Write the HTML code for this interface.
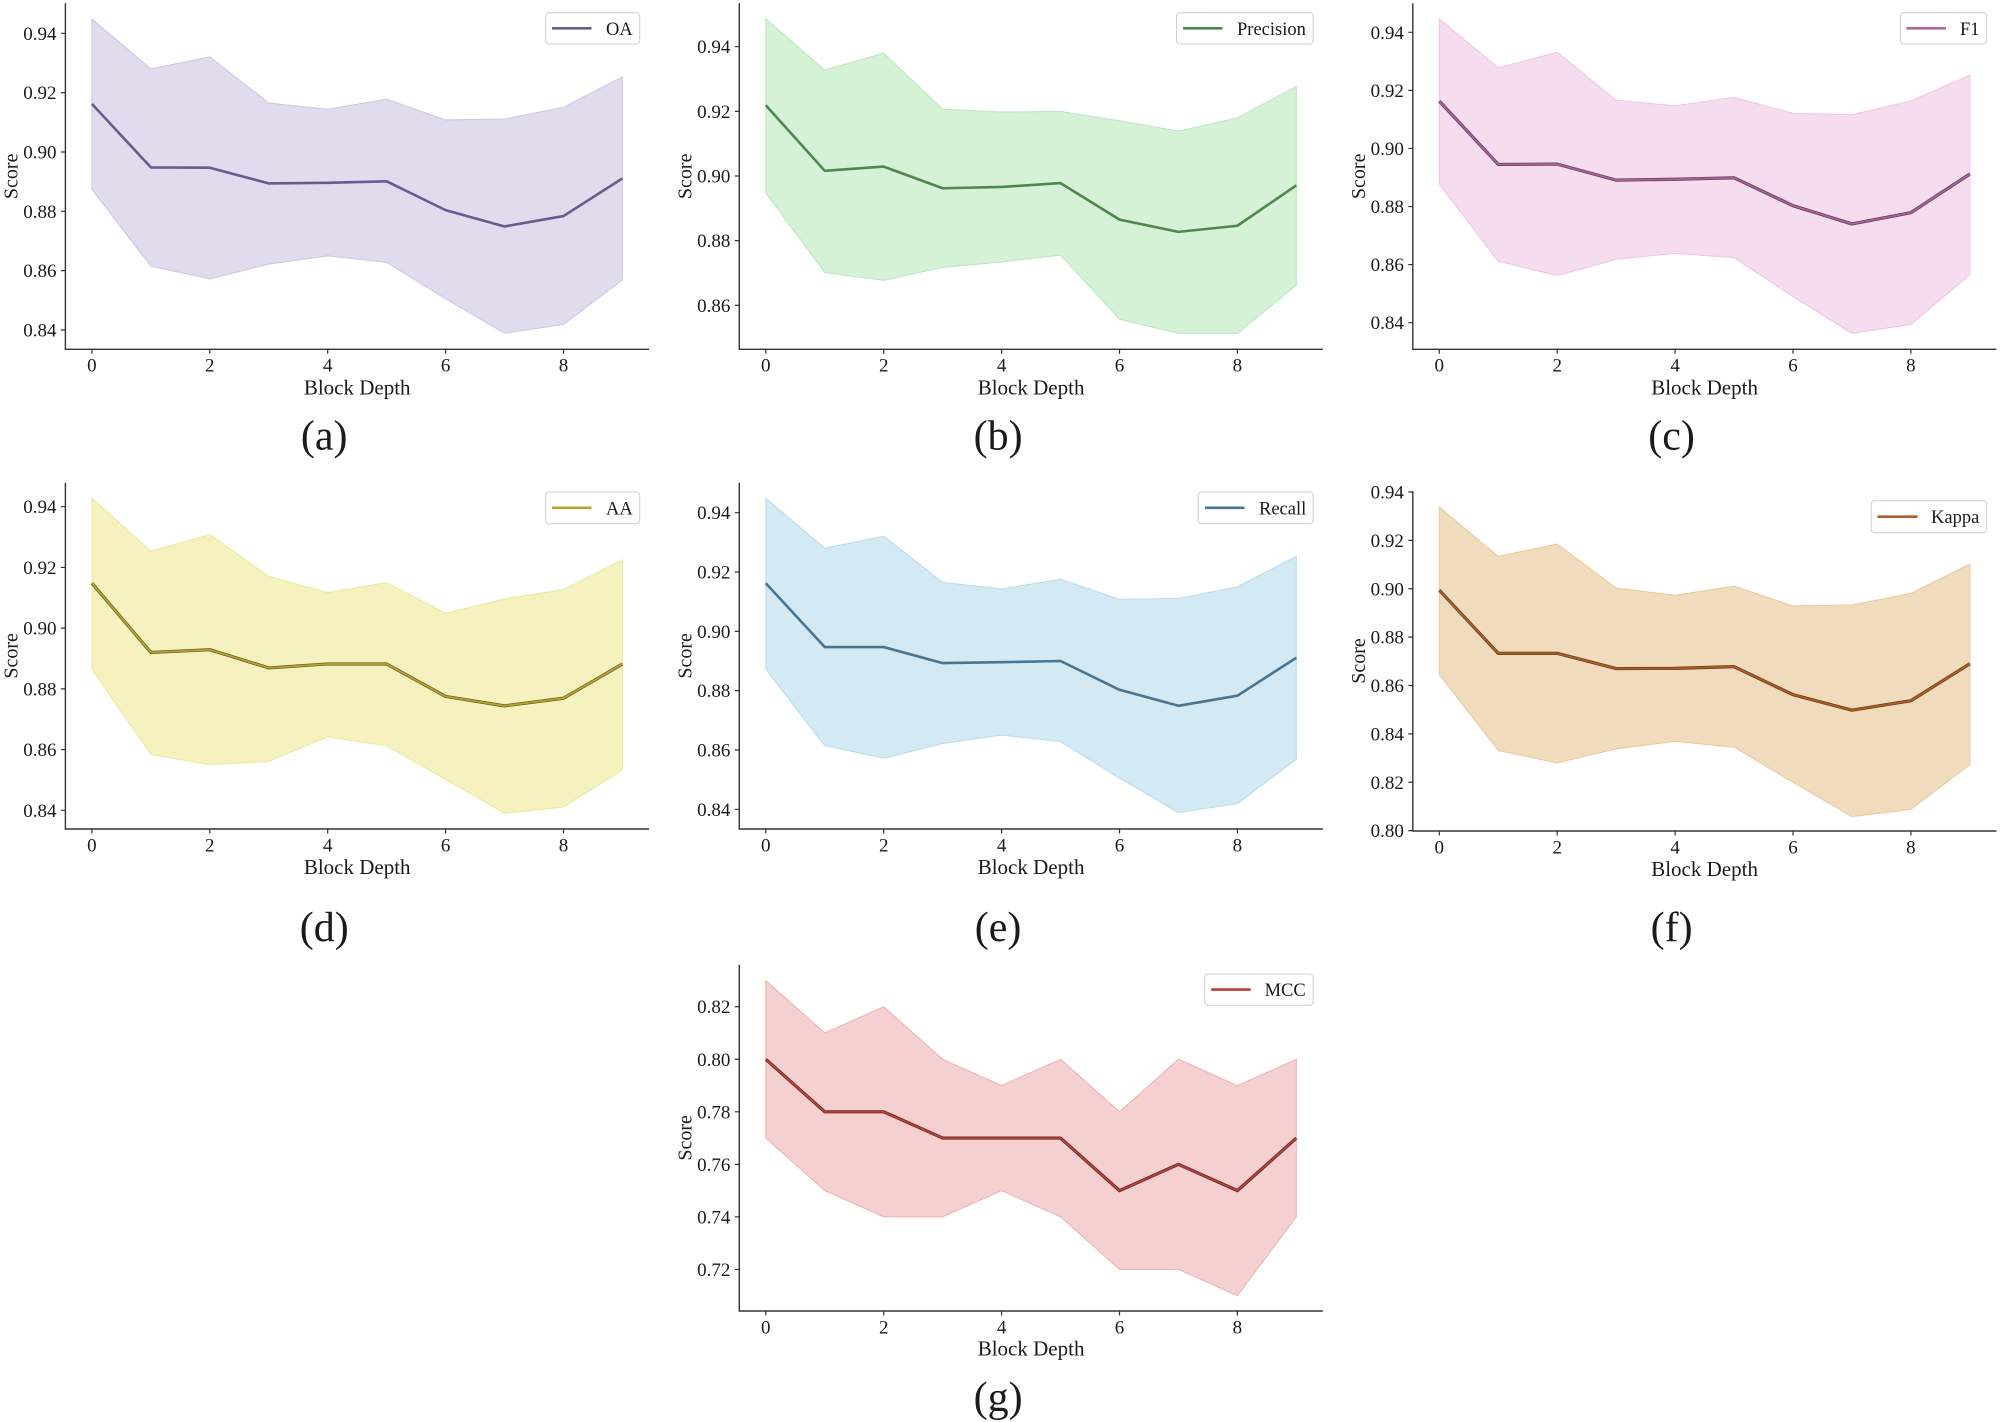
<!DOCTYPE html>
<html>
<head>
<meta charset="utf-8">
<style>
html,body{margin:0;padding:0;background:#fff;}
svg{display:block;}
text{font-family:"Liberation Serif","Times New Roman",serif;fill:#1a1a1a;}
.tk{font-size:19px;}
.yt{text-anchor:end;}
.xt{text-anchor:middle;}
.xl{font-size:21px;text-anchor:middle;}
.yl{font-size:20px;text-anchor:middle;}
.sub{font-size:42px;text-anchor:middle;}
.lg{font-size:18.5px;}
.ax{stroke:#333;stroke-width:1.4;fill:none;}
.tick{stroke:#333;stroke-width:1.2;}
.lbox{fill:#fff;fill-opacity:0.85;stroke:#d2d2d2;stroke-width:1.1;}
</style>
</head>
<body>
<svg width="2000" height="1422" viewBox="0 0 2000 1422" xmlns="http://www.w3.org/2000/svg">
<rect x="0" y="0" width="2000" height="1422" fill="#fff"/>

<!-- ===================== (a) OA ===================== -->
<g>
<g transform="matrix(58.95 0 0 -2967 91.9 2822.28)">
<polygon vector-effect="non-scaling-stroke" fill="#e0dcee" stroke="#cdc7e5" stroke-width="1" points="0,0.9448 1,0.9280 2,0.9321 3,0.9165 4,0.9144 5,0.9178 6,0.9108 7,0.9111 8,0.9151 9,0.9253 9,0.8569 8,0.8419 7,0.8389 6,0.8505 5,0.8628 4,0.8650 3,0.8622 2,0.8572 1,0.8615 0,0.8874"/>
<polyline vector-effect="non-scaling-stroke" fill="none" stroke="#6b5b8c" stroke-width="2.6" stroke-linejoin="round" points="0,0.9162 1,0.8948 2,0.8947 3,0.8894 4,0.8896 5,0.8901 6,0.8804 7,0.8749 8,0.8784 9,0.8911"/>
</g>
<path class="ax" d="M65.4 3.3 V349.3 H649"/>
<path class="tick" d="M65.4 330 h-4.5 M65.4 270.66 h-4.5 M65.4 211.32 h-4.5 M65.4 151.98 h-4.5 M65.4 92.64 h-4.5 M65.4 33.3 h-4.5 M91.9 349.3 v4.5 M209.8 349.3 v4.5 M327.7 349.3 v4.5 M445.6 349.3 v4.5 M563.5 349.3 v4.5"/>
<text class="tk yt" x="56.5" y="336.5">0.84</text>
<text class="tk yt" x="56.5" y="277.2">0.86</text>
<text class="tk yt" x="56.5" y="217.8">0.88</text>
<text class="tk yt" x="56.5" y="158.5">0.90</text>
<text class="tk yt" x="56.5" y="99.1">0.92</text>
<text class="tk yt" x="56.5" y="39.8">0.94</text>
<text class="tk xt" x="91.9" y="371.7">0</text>
<text class="tk xt" x="209.8" y="371.7">2</text>
<text class="tk xt" x="327.7" y="371.7">4</text>
<text class="tk xt" x="445.6" y="371.7">6</text>
<text class="tk xt" x="563.5" y="371.7">8</text>
<text class="xl" x="357.2" y="394.3">Block Depth</text>
<text class="yl" transform="translate(17.4 176.3) rotate(-90)">Score</text>
<rect class="lbox" x="545.6" y="12.7" width="94.1" height="31.3" rx="3.5"/>
<line x1="552" y1="28.3" x2="591.5" y2="28.3" stroke="#6b5b8c" stroke-width="2.6"/>
<text class="lg" x="606" y="34.8">OA</text>
<text class="sub" x="324.2" y="449.5">(a)</text>
</g>

<!-- ===================== (b) Precision ===================== -->
<g>
<g transform="matrix(58.95 0 0 -3232 765.8 3084.78)">
<polygon vector-effect="non-scaling-stroke" fill="#d5f1d6" stroke="#bde7bf" stroke-width="1" points="0,0.9486 1,0.9328 2,0.9380 3,0.9207 4,0.9198 5,0.9200 6,0.9171 7,0.9139 8,0.9180 9,0.9277 9,0.8662 8,0.8513 7,0.8513 6,0.8557 5,0.8755 4,0.8734 3,0.8717 2,0.8677 1,0.8701 0,0.8948"/>
<polyline vector-effect="non-scaling-stroke" fill="none" stroke="#4f874f" stroke-width="2.6" stroke-linejoin="round" points="0,0.9219 1,0.9016 2,0.9029 3,0.8962 4,0.8966 5,0.8978 6,0.8865 7,0.8827 8,0.8846 9,0.8971"/>
</g>
<path class="ax" d="M739.3 3.3 V349.3 H1322.9"/>
<path class="tick" d="M739.3 305.26 h-4.5 M739.3 240.62 h-4.5 M739.3 175.98 h-4.5 M739.3 111.34 h-4.5 M739.3 46.7 h-4.5 M765.8 349.3 v4.5 M883.7 349.3 v4.5 M1001.6 349.3 v4.5 M1119.5 349.3 v4.5 M1237.4 349.3 v4.5"/>
<text class="tk yt" x="730.4" y="311.8">0.86</text>
<text class="tk yt" x="730.4" y="247.1">0.88</text>
<text class="tk yt" x="730.4" y="182.5">0.90</text>
<text class="tk yt" x="730.4" y="117.8">0.92</text>
<text class="tk yt" x="730.4" y="53.2">0.94</text>
<text class="tk xt" x="765.8" y="371.7">0</text>
<text class="tk xt" x="883.7" y="371.7">2</text>
<text class="tk xt" x="1001.6" y="371.7">4</text>
<text class="tk xt" x="1119.5" y="371.7">6</text>
<text class="tk xt" x="1237.4" y="371.7">8</text>
<text class="xl" x="1031.1" y="394.3">Block Depth</text>
<text class="yl" transform="translate(691.3 176.3) rotate(-90)">Score</text>
<rect class="lbox" x="1176.5" y="12.7" width="136.7" height="31.3" rx="3.5"/>
<line x1="1183" y1="28.3" x2="1222.5" y2="28.3" stroke="#4f874f" stroke-width="2.6"/>
<text class="lg" x="1237" y="34.8">Precision</text>
<text class="sub" x="998.1" y="449.5">(b)</text>
</g>

<!-- ===================== (c) F1 ===================== -->
<g>
<g transform="matrix(58.95 0 0 -2904 1439.3 2762.06)">
<polygon vector-effect="non-scaling-stroke" fill="#f5dcef" stroke="#efc5e5" stroke-width="1" points="0,0.9446 1,0.9278 2,0.9331 3,0.9166 4,0.9147 5,0.9176 6,0.9121 7,0.9116 8,0.9164 9,0.9252 9,0.8565 8,0.8394 7,0.8363 6,0.8490 5,0.8624 4,0.8639 3,0.8618 2,0.8562 1,0.8612 0,0.8877"/>
<polyline vector-effect="non-scaling-stroke" fill="none" stroke="#5e3d57" stroke-width="3.2" stroke-linejoin="round" points="0,0.9163 1,0.8945 2,0.8946 3,0.8891 4,0.8894 5,0.8899 6,0.8803 7,0.8740 8,0.8779 9,0.8912"/>
<polyline vector-effect="non-scaling-stroke" fill="none" stroke="#ad639c" stroke-width="1.7" stroke-linejoin="round" points="0,0.9163 1,0.8945 2,0.8946 3,0.8891 4,0.8894 5,0.8899 6,0.8803 7,0.8740 8,0.8779 9,0.8912"/>
</g>
<path class="ax" d="M1412.8 3.3 V349.3 H1996.4"/>
<path class="tick" d="M1412.8 322.7 h-4.5 M1412.8 264.62 h-4.5 M1412.8 206.54 h-4.5 M1412.8 148.46 h-4.5 M1412.8 90.38 h-4.5 M1412.8 32.3 h-4.5 M1439.3 349.3 v4.5 M1557.2 349.3 v4.5 M1675.1 349.3 v4.5 M1793 349.3 v4.5 M1910.9 349.3 v4.5"/>
<text class="tk yt" x="1403.9" y="329.2">0.84</text>
<text class="tk yt" x="1403.9" y="271.1">0.86</text>
<text class="tk yt" x="1403.9" y="213">0.88</text>
<text class="tk yt" x="1403.9" y="155">0.90</text>
<text class="tk yt" x="1403.9" y="96.9">0.92</text>
<text class="tk yt" x="1403.9" y="38.8">0.94</text>
<text class="tk xt" x="1439.3" y="371.7">0</text>
<text class="tk xt" x="1557.2" y="371.7">2</text>
<text class="tk xt" x="1675.1" y="371.7">4</text>
<text class="tk xt" x="1793" y="371.7">6</text>
<text class="tk xt" x="1910.9" y="371.7">8</text>
<text class="xl" x="1704.6" y="394.3">Block Depth</text>
<text class="yl" transform="translate(1364.8 176.3) rotate(-90)">Score</text>
<rect class="lbox" x="1900.3" y="12.7" width="86.3" height="31.3" rx="3.5"/>
<line x1="1906.5" y1="28.3" x2="1946" y2="28.3" stroke="#b0649f" stroke-width="2.6"/>
<text class="lg" x="1960" y="34.8">F1</text>
<text class="sub" x="1671.6" y="449.5">(c)</text>
</g>

<!-- ===================== (d) AA ===================== -->
<g>
<g transform="matrix(58.95 0 0 -3036 91.9 3360.54)">
<polygon vector-effect="non-scaling-stroke" fill="#f5f2bf" stroke="#eee89c" stroke-width="1" points="0,0.9428 1,0.9254 2,0.9308 3,0.9171 4,0.9117 5,0.9150 6,0.9049 7,0.9096 8,0.9127 9,0.9225 9,0.8533 8,0.8411 7,0.8390 6,0.8502 5,0.8612 4,0.8642 3,0.8561 2,0.8550 1,0.8584 0,0.8864"/>
<polyline vector-effect="non-scaling-stroke" fill="none" stroke="#6b6420" stroke-width="3.2" stroke-linejoin="round" points="0,0.9148 1,0.8920 2,0.8929 3,0.8869 4,0.8882 5,0.8882 6,0.8775 7,0.8744 8,0.8769 9,0.8882"/>
<polyline vector-effect="non-scaling-stroke" fill="none" stroke="#b8a332" stroke-width="1.7" stroke-linejoin="round" points="0,0.9148 1,0.8920 2,0.8929 3,0.8869 4,0.8882 5,0.8882 6,0.8775 7,0.8744 8,0.8769 9,0.8882"/>
</g>
<path class="ax" d="M65.4 482.7 V829 H649"/>
<path class="tick" d="M65.4 810.3 h-4.5 M65.4 749.58 h-4.5 M65.4 688.86 h-4.5 M65.4 628.14 h-4.5 M65.4 567.42 h-4.5 M65.4 506.7 h-4.5 M91.9 829 v4.5 M209.8 829 v4.5 M327.7 829 v4.5 M445.6 829 v4.5 M563.5 829 v4.5"/>
<text class="tk yt" x="56.5" y="816.8">0.84</text>
<text class="tk yt" x="56.5" y="756.1">0.86</text>
<text class="tk yt" x="56.5" y="695.4">0.88</text>
<text class="tk yt" x="56.5" y="634.6">0.90</text>
<text class="tk yt" x="56.5" y="573.9">0.92</text>
<text class="tk yt" x="56.5" y="513.2">0.94</text>
<text class="tk xt" x="91.9" y="851.4">0</text>
<text class="tk xt" x="209.8" y="851.4">2</text>
<text class="tk xt" x="327.7" y="851.4">4</text>
<text class="tk xt" x="445.6" y="851.4">6</text>
<text class="tk xt" x="563.5" y="851.4">8</text>
<text class="xl" x="357.2" y="874">Block Depth</text>
<text class="yl" transform="translate(17.4 655.85) rotate(-90)">Score</text>
<rect class="lbox" x="545.6" y="492" width="94.1" height="31.7" rx="3.5"/>
<line x1="552" y1="507.8" x2="591.5" y2="507.8" stroke="#b8a332" stroke-width="2.6"/>
<text class="lg" x="606" y="514.3">AA</text>
<text class="sub" x="324.2" y="941">(d)</text>
</g>

<!-- ===================== (e) Recall ===================== -->
<g>
<g transform="matrix(58.95 0 0 -2966 765.8 3300.74)">
<polygon vector-effect="non-scaling-stroke" fill="#d3e9f4" stroke="#badcee" stroke-width="1" points="0,0.9449 1,0.9280 2,0.9321 3,0.9165 4,0.9143 5,0.9176 6,0.9108 7,0.9111 8,0.9150 9,0.9253 9,0.8569 8,0.8419 7,0.8389 6,0.8505 5,0.8628 4,0.8650 3,0.8622 2,0.8572 1,0.8615 0,0.8872"/>
<polyline vector-effect="non-scaling-stroke" fill="none" stroke="#4a7590" stroke-width="2.6" stroke-linejoin="round" points="0,0.9162 1,0.8947 2,0.8947 3,0.8893 4,0.8896 5,0.8900 6,0.8803 7,0.8749 8,0.8783 9,0.8911"/>
</g>
<path class="ax" d="M739.3 482.7 V829 H1322.9"/>
<path class="tick" d="M739.3 809.3 h-4.5 M739.3 749.98 h-4.5 M739.3 690.66 h-4.5 M739.3 631.34 h-4.5 M739.3 572.02 h-4.5 M739.3 512.7 h-4.5 M765.8 829 v4.5 M883.7 829 v4.5 M1001.6 829 v4.5 M1119.5 829 v4.5 M1237.4 829 v4.5"/>
<text class="tk yt" x="730.4" y="815.8">0.84</text>
<text class="tk yt" x="730.4" y="756.5">0.86</text>
<text class="tk yt" x="730.4" y="697.2">0.88</text>
<text class="tk yt" x="730.4" y="637.8">0.90</text>
<text class="tk yt" x="730.4" y="578.5">0.92</text>
<text class="tk yt" x="730.4" y="519.2">0.94</text>
<text class="tk xt" x="765.8" y="851.4">0</text>
<text class="tk xt" x="883.7" y="851.4">2</text>
<text class="tk xt" x="1001.6" y="851.4">4</text>
<text class="tk xt" x="1119.5" y="851.4">6</text>
<text class="tk xt" x="1237.4" y="851.4">8</text>
<text class="xl" x="1031.1" y="874">Block Depth</text>
<text class="yl" transform="translate(691.3 655.85) rotate(-90)">Score</text>
<rect class="lbox" x="1198.2" y="492" width="115" height="31.7" rx="3.5"/>
<line x1="1205" y1="507.8" x2="1244.5" y2="507.8" stroke="#4a7590" stroke-width="2.6"/>
<text class="lg" x="1259" y="514.3">Recall</text>
<text class="sub" x="998.1" y="941">(e)</text>
</g>

<!-- ===================== (f) Kappa ===================== -->
<g>
<g transform="matrix(58.95 0 0 -2419 1439.3 2765.86)">
<polygon vector-effect="non-scaling-stroke" fill="#f0dcbc" stroke="#eac9a0" stroke-width="1" points="0,0.9338 1,0.9134 2,0.9185 3,0.9003 4,0.8973 5,0.9011 6,0.8929 7,0.8933 8,0.8981 9,0.9102 9,0.8273 8,0.8088 7,0.8058 6,0.8200 5,0.8345 4,0.8369 3,0.8338 2,0.8280 1,0.8331 0,0.8645"/>
<polyline vector-effect="non-scaling-stroke" fill="none" stroke="#6e3d17" stroke-width="3.2" stroke-linejoin="round" points="0,0.8994 1,0.8733 2,0.8733 3,0.8670 4,0.8671 5,0.8678 6,0.8562 7,0.8498 8,0.8537 9,0.8690"/>
<polyline vector-effect="non-scaling-stroke" fill="none" stroke="#a9602a" stroke-width="1.7" stroke-linejoin="round" points="0,0.8994 1,0.8733 2,0.8733 3,0.8670 4,0.8671 5,0.8678 6,0.8562 7,0.8498 8,0.8537 9,0.8690"/>
</g>
<path class="ax" d="M1412.8 491 V831 H1996.4"/>
<path class="tick" d="M1412.8 830.66 h-4.5 M1412.8 782.28 h-4.5 M1412.8 733.9 h-4.5 M1412.8 685.52 h-4.5 M1412.8 637.14 h-4.5 M1412.8 588.76 h-4.5 M1412.8 540.38 h-4.5 M1412.8 492 h-4.5 M1439.3 831 v4.5 M1557.2 831 v4.5 M1675.1 831 v4.5 M1793 831 v4.5 M1910.9 831 v4.5"/>
<text class="tk yt" x="1403.9" y="837.2">0.80</text>
<text class="tk yt" x="1403.9" y="788.8">0.82</text>
<text class="tk yt" x="1403.9" y="740.4">0.84</text>
<text class="tk yt" x="1403.9" y="692">0.86</text>
<text class="tk yt" x="1403.9" y="643.6">0.88</text>
<text class="tk yt" x="1403.9" y="595.3">0.90</text>
<text class="tk yt" x="1403.9" y="546.9">0.92</text>
<text class="tk yt" x="1403.9" y="498.5">0.94</text>
<text class="tk xt" x="1439.3" y="853.4">0</text>
<text class="tk xt" x="1557.2" y="853.4">2</text>
<text class="tk xt" x="1675.1" y="853.4">4</text>
<text class="tk xt" x="1793" y="853.4">6</text>
<text class="tk xt" x="1910.9" y="853.4">8</text>
<text class="xl" x="1704.6" y="876">Block Depth</text>
<text class="yl" transform="translate(1364.8 661) rotate(-90)">Score</text>
<rect class="lbox" x="1871.2" y="500.7" width="115.4" height="32" rx="3.5"/>
<line x1="1877.5" y1="516.7" x2="1917.5" y2="516.7" stroke="#a9602a" stroke-width="2.6"/>
<text class="lg" x="1931" y="523.2">Kappa</text>
<text class="sub" x="1671.6" y="941">(f)</text>
</g>

<!-- ===================== (g) MCC ===================== -->
<g>
<g transform="matrix(58.95 0 0 -2627 765.8 3160.87)">
<polygon vector-effect="non-scaling-stroke" fill="#f5d0d0" stroke="#efb3b1" stroke-width="1" points="0,0.83 1,0.81 2,0.82 3,0.80 4,0.79 5,0.80 6,0.78 7,0.80 8,0.79 9,0.80 9,0.74 8,0.71 7,0.72 6,0.72 5,0.74 4,0.75 3,0.74 2,0.74 1,0.75 0,0.77"/>
<polyline vector-effect="non-scaling-stroke" fill="none" stroke="#6a2826" stroke-width="3.2" stroke-linejoin="round" points="0,0.80 1,0.78 2,0.78 3,0.77 4,0.77 5,0.77 6,0.75 7,0.76 8,0.75 9,0.77"/>
<polyline vector-effect="non-scaling-stroke" fill="none" stroke="#b8413c" stroke-width="1.7" stroke-linejoin="round" points="0,0.80 1,0.78 2,0.78 3,0.77 4,0.77 5,0.77 6,0.75 7,0.76 8,0.75 9,0.77"/>
</g>
<path class="ax" d="M739.3 964.7 V1311 H1322.9"/>
<path class="tick" d="M739.3 1269.43 h-4.5 M739.3 1216.89 h-4.5 M739.3 1164.35 h-4.5 M739.3 1111.81 h-4.5 M739.3 1059.27 h-4.5 M739.3 1006.73 h-4.5 M765.8 1311 v4.5 M883.7 1311 v4.5 M1001.6 1311 v4.5 M1119.5 1311 v4.5 M1237.4 1311 v4.5"/>
<text class="tk yt" x="730.4" y="1275.9">0.72</text>
<text class="tk yt" x="730.4" y="1223.4">0.74</text>
<text class="tk yt" x="730.4" y="1170.9">0.76</text>
<text class="tk yt" x="730.4" y="1118.3">0.78</text>
<text class="tk yt" x="730.4" y="1065.8">0.80</text>
<text class="tk yt" x="730.4" y="1013.2">0.82</text>
<text class="tk xt" x="765.8" y="1333.4">0</text>
<text class="tk xt" x="883.7" y="1333.4">2</text>
<text class="tk xt" x="1001.6" y="1333.4">4</text>
<text class="tk xt" x="1119.5" y="1333.4">6</text>
<text class="tk xt" x="1237.4" y="1333.4">8</text>
<text class="xl" x="1031.1" y="1355.7">Block Depth</text>
<text class="yl" transform="translate(691.3 1137.85) rotate(-90)">Score</text>
<rect class="lbox" x="1204.7" y="974" width="108.5" height="31.3" rx="3.5"/>
<line x1="1211.2" y1="989.6" x2="1250.7" y2="989.6" stroke="#b8413c" stroke-width="2.6"/>
<text class="lg" x="1264.6" y="996.1">MCC</text>
<text class="sub" x="998.1" y="1411">(g)</text>
</g>
</svg>
</body>
</html>
